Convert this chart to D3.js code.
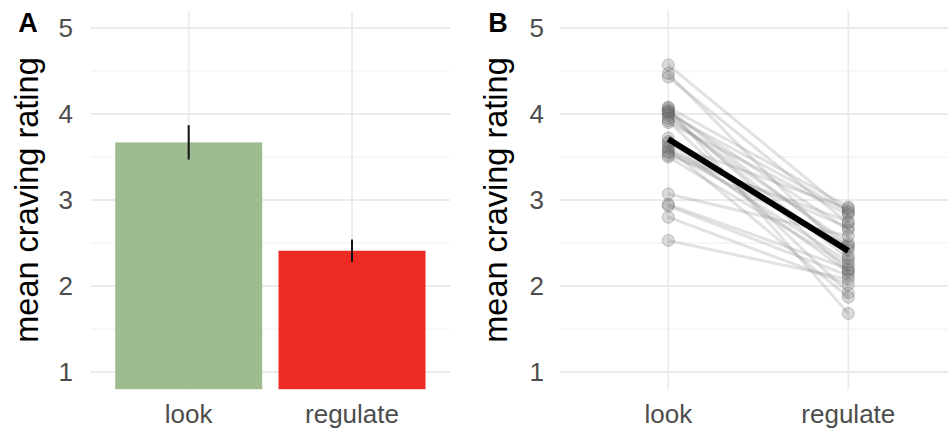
<!DOCTYPE html>
<html lang="en">
<head>
    <meta charset="UTF-8">
    <title>craving ratings</title>
    <script src="https://cdn.jsdelivr.net/npm/d3@7"></script>
    <style>
        body { margin: 0; background: #fff; }
        text { font-family: "Liberation Sans", Arial, Helvetica, sans-serif; }
    </style>
</head>
<body>
<div id="chart"></div>

<script>
    // condition names
    var conditions = ["look", "regulate"];

    // panel A: means and error bar half-widths
    var barMeans = [3.67, 2.41];
    var barErr = [0.20, 0.13];
    var barColors = ["#9ebc8f", "#ee2a24"];

    // panel B: one value per participant in each condition (same order)
    var lookRatings = [4.57, 4.47, 4.43, 4.08, 4.07, 4.05, 4.03, 4.02, 4.00, 3.98, 3.95, 3.92, 3.90, 3.72,
        3.68, 3.66, 3.62, 3.60, 3.57, 3.55, 3.52, 3.50, 3.07, 2.95, 2.93, 2.80, 2.53];
    var regulateRatings = [2.85, 2.35, 2.73, 2.92, 1.68, 2.45, 2.65, 2.18, 2.87, 2.32, 2.50, 1.92, 2.83, 2.42,
        2.16, 2.90, 2.28, 1.87, 2.68, 2.47, 2.75, 2.24, 2.58, 2.20, 2.12, 2.02, 2.08];

    var yTicks = [1, 2, 3, 4, 5];
    var yMinor = [1.5, 2.5, 3.5, 4.5];

    var W = 948, H = 432;
    var svg = d3.select("#chart").append("svg")
        .attr("width", W)
        .attr("height", H);

    // both panels share the same y scale
    var y = d3.scaleLinear().domain([0.8, 5.2]).range([389.2, 10.8]);

    function drawFrame(left, right, labelX, tag, tagX) {
        var x = d3.scalePoint().domain(conditions).range([left, right]).padding(0.6);
        var g = svg.append("g");

        // minor grid
        g.selectAll("line.minor").data(yMinor).enter().append("line")
            .attr("x1", left).attr("x2", right)
            .attr("y1", function(d) { return y(d); })
            .attr("y2", function(d) { return y(d); })
            .attr("stroke", "#f0f0f0").attr("stroke-width", 1.2);

        // major grid
        g.selectAll("line.major").data(yTicks).enter().append("line")
            .attr("x1", left).attr("x2", right)
            .attr("y1", function(d) { return y(d); })
            .attr("y2", function(d) { return y(d); })
            .attr("stroke", "#ebebeb").attr("stroke-width", 1.8);

        g.selectAll("line.vert").data(conditions).enter().append("line")
            .attr("x1", function(d) { return x(d); })
            .attr("x2", function(d) { return x(d); })
            .attr("y1", y(5.2)).attr("y2", y(0.8))
            .attr("stroke", "#ebebeb").attr("stroke-width", 1.8);

        // y tick labels
        g.selectAll("text.ytick").data(yTicks).enter().append("text")
            .attr("x", labelX)
            .attr("y", function(d) { return y(d); })
            .attr("dy", "0.36em")
            .attr("text-anchor", "end")
            .attr("fill", "#4d4d4d")
            .style("font-size", "26px")
            .text(function(d) { return d; });

        // x tick labels
        g.selectAll("text.xtick").data(conditions).enter().append("text")
            .attr("x", function(d) { return x(d); })
            .attr("y", 423)
            .attr("text-anchor", "middle")
            .attr("fill", "#4d4d4d")
            .style("font-size", "26px")
            .text(function(d) { return d; });

        // y title
        g.append("text")
            .attr("transform", "translate(" + (left - 53) + "," + y(3) + ") rotate(-90)")
            .attr("text-anchor", "middle")
            .attr("fill", "#000")
            .style("font-size", "32.5px")
            .text("mean craving rating");

        // panel tag
        g.append("text")
            .attr("x", tagX).attr("y", 32)
            .attr("text-anchor", "middle")
            .style("font-size", "27px")
            .style("font-weight", "bold")
            .text(tag);

        return x;
    }

    // ---- panel A ----
    var xA = drawFrame(90.7, 450, 73, "A", 28);
    var bw = 0.9 * (xA("regulate") - xA("look"));

    svg.append("g").selectAll("rect").data(conditions).enter().append("rect")
        .attr("x", function(d) { return xA(d) - bw / 2; })
        .attr("width", bw)
        .attr("y", function(d, i) { return y(barMeans[i]); })
        .attr("height", function(d, i) { return y(0.8) - y(barMeans[i]); })
        .attr("fill", function(d, i) { return barColors[i]; });

    svg.append("g").selectAll("line").data(conditions).enter().append("line")
        .attr("x1", function(d) { return xA(d); })
        .attr("x2", function(d) { return xA(d); })
        .attr("y1", function(d, i) { return y(barMeans[i] - barErr[i]); })
        .attr("y2", function(d, i) { return y(barMeans[i] + barErr[i]); })
        .attr("stroke", "#111").attr("stroke-width", 2);

    // ---- panel B ----
    var xB = drawFrame(560.3, 956.3, 544, "B", 498);

    var pairs = lookRatings.map(function(v, i) { return [v, regulateRatings[i]]; });

    var gB = svg.append("g");
    gB.selectAll("line.subj").data(pairs).enter().append("line")
        .attr("x1", xB("look")).attr("x2", xB("regulate"))
        .attr("y1", function(d) { return y(d[0]); })
        .attr("y2", function(d) { return y(d[1]); })
        .attr("stroke", "#8a8a8a")
        .attr("stroke-opacity", 0.25)
        .attr("stroke-width", 3);

    var pts = [];
    pairs.forEach(function(d) {
        pts.push({c: "look", v: d[0]});
        pts.push({c: "regulate", v: d[1]});
    });

    gB.selectAll("circle").data(pts).enter().append("circle")
        .attr("cx", function(d) { return xB(d.c); })
        .attr("cy", function(d) { return y(d.v); })
        .attr("r", 6)
        .attr("fill", "#6e6e6e")
        .attr("fill-opacity", 0.25)
        .attr("stroke", "#333")
        .attr("stroke-opacity", 0.25)
        .attr("stroke-width", 1);

    // group mean line
    var meanLook = d3.mean(lookRatings), meanReg = d3.mean(regulateRatings);
    gB.append("line")
        .attr("x1", xB("look")).attr("x2", xB("regulate"))
        .attr("y1", y(meanLook)).attr("y2", y(meanReg))
        .attr("stroke", "#000")
        .attr("stroke-width", 6);
</script>
</body>
</html>
